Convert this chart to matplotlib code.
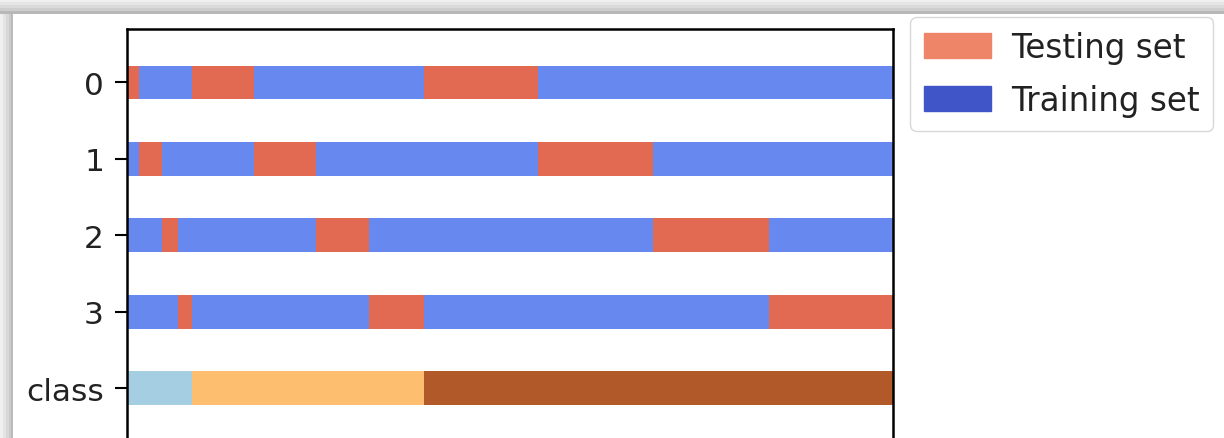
import matplotlib
matplotlib.use("Agg")
import matplotlib.pyplot as plt
from matplotlib.patches import Patch, Rectangle
import numpy as np

# ---- data (sample-index axis, 0..100) ----
row_labels = ["0", "1", "2", "3", "class"]
row0_edges = [0, 1.57, 8.49, 16.58, 38.77, 53.66, 100]
row0_test = [1, 0, 1, 0, 1, 0]
row1_edges = [0, 1.57, 4.57, 16.58, 24.67, 53.66, 68.67, 100]
row1_test = [0, 1, 0, 1, 0, 1, 0]
row2_edges = [0, 4.57, 6.66, 24.67, 31.59, 68.67, 83.81, 100]
row2_test = [0, 1, 0, 1, 0, 1, 0]
row3_edges = [0, 6.66, 8.49, 31.59, 38.77, 83.81, 100]
row3_test = [0, 1, 0, 1, 0, 1]
class_edges = [0, 8.49, 38.77, 100]
class_ids = [0, 1, 2]
legend_labels = ["Testing set", "Training set"]

W, H = 1224, 439
fig = plt.figure(figsize=(W / 100, H / 100), dpi=100)
fig.patch.set_facecolor("white")

cmap_cv = plt.cm.coolwarm
test_color = cmap_cv((1 + .2) / 1.4)
train_color = cmap_cv((0 + .2) / 1.4)
class_colors = [(0.651, 0.808, 0.890), (0.992, 0.749, 0.435), (0.694, 0.349, 0.157)]

# axes placement (pixel-derived)
ax_left, ax_right, ax_top, ax_bot = 127, 893, 30, 519
ax = fig.add_axes([ax_left / W, (H - ax_bot) / H, (ax_right - ax_left) / W, (ax_bot - ax_top) / H])

bar_h = 0.44
rows = [(row0_edges, row0_test), (row1_edges, row1_test), (row2_edges, row2_test), (row3_edges, row3_test)]
for i, (edges, kinds) in enumerate(rows):
    e = np.array(edges)
    cols = [test_color if k else train_color for k in kinds]
    ax.barh(np.full(len(kinds), i + .5), np.diff(e), left=e[:-1], height=bar_h,
            color=cols, linewidth=0)
ce = np.array(class_edges)
ax.barh(np.full(len(class_ids), len(rows) + .5), np.diff(ce), left=ce[:-1], height=bar_h,
        color=[class_colors[c] for c in class_ids], linewidth=0)

ax.set_xlim(0, 100)
ax.set_ylim(len(rows) + 2.2, -.2)
ax.set_yticks(np.arange(len(row_labels)) + .5)
ax.set_yticklabels(row_labels, fontsize=22.5, color="#222222")
ax.set_xticks([])
ax.tick_params(axis="y", length=8.6, width=1.5, pad=8)
for s in ax.spines.values():
    s.set_linewidth(1.8)

leg = fig.legend([Patch(color=cmap_cv(.8)), Patch(color=cmap_cv(.02))], legend_labels,
                 loc="upper left", bbox_to_anchor=(910 / W, 1 - 18 / H),
                 bbox_transform=fig.transFigure, borderaxespad=0, fontsize=23.5,
                 handlelength=2.05, handleheight=0.77, handletextpad=0.62,
                 labelspacing=0.62, borderpad=0.42, framealpha=1, edgecolor="#d8d8d8",
                 fancybox=True)
for t in leg.get_texts():
    t.set_color("#222222")

# screenshot drop-shadow frame
top_bands = [(0, 3, "#f0f0f0"), (3, 6, "#e6e6e6"), (6, 9, "#dadada"), (9, 12, "#cdcdcd"), (12, 15, "#b8b8b8")]
for y0, y1, c in top_bands:
    fig.patches.append(Rectangle((0, 1 - y1 / H), 1, (y1 - y0) / H, transform=fig.transFigure,
                                 facecolor=c, edgecolor="none", zorder=-1))
left_bands = [(0, 3, "#f0f0f0"), (3, 6, "#e4e4e4"), (6, 9, "#d8d8d8"), (9, 11, "#cacaca"), (11, 13, "#bbbbbb")]
for x0, x1, c in left_bands:
    fig.patches.append(Rectangle((x0 / W, 0), (x1 - x0) / W, 1 - 15 / H, transform=fig.transFigure,
                                 facecolor=c, edgecolor="none", zorder=-1))

fig.savefig("out.png", dpi=100)
